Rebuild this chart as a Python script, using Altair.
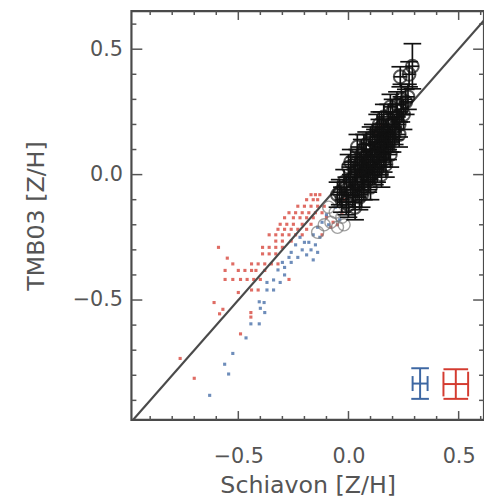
import altair as alt
import pandas as pd

# ---------------- data ----------------
X_DOMAIN = [-0.985, 0.615]
Y_DOMAIN = [-0.978, 0.652]

x_major = [-0.5, 0.0, 0.5]
y_major = [-0.5, 0.0, 0.5]
x_minor = [-0.9, -0.8, -0.7, -0.6, -0.4, -0.3, -0.2, -0.1, 0.1, 0.2, 0.3, 0.4, 0.6]
y_minor = [-0.9, -0.8, -0.7, -0.6, -0.4, -0.3, -0.2, -0.1, 0.1, 0.2, 0.3, 0.4, 0.6]

one_to_one = [-1.2, 0.8]

red_x = [-0.17, -0.15, -0.13, -0.19, -0.16, -0.14,
         -0.23, -0.20, -0.17, -0.14, -0.11,
         -0.27, -0.24, -0.21, -0.18, -0.15, -0.12,
         -0.29, -0.25, -0.22, -0.19, -0.16,
         -0.31, -0.28, -0.25, -0.21, -0.17,
         -0.32, -0.29, -0.26, -0.23, -0.19,
         -0.36, -0.33, -0.30, -0.27, -0.24, -0.21,
         -0.33, -0.30, -0.26,
         -0.59, -0.39, -0.36, -0.33, -0.30,
         -0.39, -0.36, -0.33, -0.55,
         -0.525, -0.44, -0.41, -0.38, -0.35, -0.32,
         -0.56, -0.50, -0.47, -0.44, -0.42, -0.38,
         -0.56, -0.525, -0.49, -0.46, -0.43, -0.40, -0.27,
         -0.44, -0.41, -0.50,
         -0.61, -0.57, -0.585, -0.443, -0.443, -0.49, -0.764, -0.70,
         -0.10, -0.07, -0.05, -0.08, -0.12, -0.03, 0.05, 0.10, 0.12, 0.03, 0.08, 0.15, 0.18, -0.02, 0.07]
red_y = [-0.08, -0.08, -0.08, -0.10, -0.10, -0.10,
         -0.126, -0.126, -0.126, -0.126, -0.126,
         -0.152, -0.152, -0.152, -0.152, -0.152, -0.152,
         -0.172, -0.172, -0.172, -0.172, -0.172,
         -0.198, -0.198, -0.198, -0.198, -0.198,
         -0.218, -0.218, -0.218, -0.218, -0.218,
         -0.24, -0.24, -0.24, -0.24, -0.24, -0.24,
         -0.265, -0.265, -0.265,
         -0.29, -0.29, -0.29, -0.29, -0.29,
         -0.316, -0.316, -0.316, -0.333,
         -0.356, -0.356, -0.356, -0.356, -0.356, -0.356,
         -0.382, -0.382, -0.382, -0.382, -0.382, -0.382,
         -0.418, -0.418, -0.418, -0.418, -0.418, -0.418, -0.418,
         -0.46, -0.46, -0.47,
         -0.51, -0.537, -0.555, -0.55, -0.568, -0.635, -0.733, -0.812,
         -0.17, -0.19, -0.20, -0.21, -0.24, -0.15, 0.00, 0.12, 0.17, -0.06, 0.05, 0.20, 0.22, -0.10, 0.10]

blue_x = [-0.14, -0.16, -0.13, -0.18, -0.15, -0.17, -0.14, -0.19, -0.16,
          -0.22, -0.20, -0.24, -0.21, -0.26, -0.23, -0.27, -0.30, -0.26,
          -0.29, -0.32, -0.29, -0.34, -0.31, -0.37, -0.37, -0.34,
          -0.383, -0.40, -0.38, -0.405, -0.443, -0.405, -0.465, -0.525, -0.562, -0.544, -0.63,
          -0.06, -0.10, -0.09, 0.02, 0.06, 0.10, 0.13, 0.16, 0.00, 0.04, -0.04, -0.12, 0.08, 0.11]
blue_y = [-0.21, -0.24, -0.25, -0.27, -0.28, -0.30, -0.31, -0.32, -0.34,
          -0.25, -0.27, -0.28, -0.30, -0.31, -0.33, -0.33, -0.35, -0.35,
          -0.37, -0.38, -0.40, -0.42, -0.43, -0.43, -0.46, -0.46,
          -0.51, -0.533, -0.55, -0.507, -0.595, -0.595, -0.651, -0.713, -0.756, -0.795, -0.88,
          -0.13, -0.16, -0.20, -0.05, 0.03, 0.08, 0.13, 0.18, -0.02, -0.08, -0.18, -0.19, 0.00, 0.06]

circ_x = [0.290, 0.275, 0.235, 0.26, 0.24, 0.22, 0.24, 0.20, 0.22, 0.18, 0.20, 0.23,
          0.15, 0.17, 0.21, 0.14, 0.16, 0.19, 0.12, 0.14, 0.17, 0.10, 0.13, 0.16,
          0.08, 0.11, 0.14, 0.06, 0.05, 0.08, 0.11, 0.03, 0.06, 0.09, 0.13, 0.01,
          0.04, 0.07, -0.01, 0.02, 0.05, -0.03, 0.00, 0.03,
          0.27, 0.19, 0.25, 0.16, 0.21, 0.13, 0.18, 0.10, 0.15, 0.07, 0.12, 0.04, 0.09,
          0.00, 0.06, -0.02, 0.02, 0.10, 0.15, 0.19, 0.23, 0.08, -0.04, 0.17,
          0.11, 0.14, 0.18, 0.07, 0.04, 0.01, -0.05, 0.09, 0.12, 0.20, 0.16, 0.06, -0.01, 0.03]
circ_y = [0.432, 0.400, 0.390, 0.29, 0.30, 0.28, 0.26, 0.25, 0.23, 0.22, 0.20, 0.20,
          0.19, 0.17, 0.17, 0.16, 0.14, 0.14, 0.13, 0.11, 0.11, 0.10, 0.08, 0.08,
          0.07, 0.05, 0.05, 0.08, 0.04, 0.02, 0.01, 0.01, -0.01, -0.02, 0.02, -0.02,
          -0.04, -0.05, -0.06, -0.08, -0.09, -0.10, -0.12, -0.13,
          0.31, 0.27, 0.24, 0.23, 0.19, 0.18, 0.15, 0.14, 0.12, 0.10, 0.07, 0.05, 0.03,
          0.03, 0.00, -0.03, -0.06, -0.05, 0.00, 0.08, 0.16, 0.12, -0.07, 0.04,
          0.15, 0.20, 0.11, 0.02, 0.11, 0.05, -0.08, -0.01, 0.01, 0.14, 0.06, -0.08, -0.11, -0.03]
circ_xerr = [0.03] * len(circ_x)
circ_yerr = [0.09, 0.05, 0.04, 0.05, 0.06, 0.05, 0.05, 0.05, 0.05, 0.06, 0.05, 0.05,
             0.06, 0.05, 0.05, 0.06, 0.05, 0.05, 0.05, 0.05, 0.05, 0.06, 0.05, 0.05,
             0.05, 0.05, 0.05, 0.06, 0.05, 0.05, 0.05, 0.06, 0.05, 0.05, 0.05, 0.06,
             0.05, 0.05, 0.05, 0.05, 0.05, 0.05, 0.05, 0.05,
             0.05, 0.05, 0.06, 0.05, 0.05, 0.06, 0.05, 0.05, 0.05, 0.06, 0.05, 0.05, 0.05,
             0.05, 0.06, 0.05, 0.05, 0.05, 0.05, 0.05, 0.05, 0.05, 0.05, 0.05,
             0.05, 0.05, 0.05, 0.05, 0.05, 0.05, 0.05, 0.05, 0.05, 0.05, 0.05, 0.05, 0.05, 0.05]

gray_x = [-0.06, -0.03, -0.08, -0.05, -0.11, -0.14, -0.09, -0.02]
gray_y = [-0.15, -0.17, -0.19, -0.21, -0.20, -0.23, -0.13, -0.20]

err_x = [0.325, 0.487]
err_y = [-0.833, -0.835]
err_xerr = [0.034, 0.056]
err_yerr = [0.061, 0.059]
err_color = ["#3d67a3", "#d43b30"]

RED = "#d43b30"
BLUE = "#3d67a3"
GRAY = "#555555"
FONT = "DejaVu Sans"
W, H = 357, 414

xs = alt.Scale(domain=X_DOMAIN, nice=False, zero=False)
ys = alt.Scale(domain=Y_DOMAIN, nice=False, zero=False)

x_axis = alt.Axis(values=x_major, format=".1f", ticks=False, tickSize=0, domain=False, grid=False,
                  labelFont=FONT, labelFontSize=21, labelColor=GRAY, labelPadding=26, labelFlush=False,
                  title="Schiavon [Z/H]", titleFont=FONT, titleFontSize=24, titleFontWeight="normal",
                  titleColor=GRAY, titlePadding=7)
y_axis = alt.Axis(values=y_major, format=".1f", ticks=False, tickSize=0, domain=False, grid=False,
                  labelFont=FONT, labelFontSize=21, labelColor=GRAY, labelPadding=9, labelFlush=False,
                  title="TMB03 [Z/H]", titleFont=FONT, titleFontSize=24, titleFontWeight="normal",
                  titleColor=GRAY, titlePadding=24)


def X(f):
    return alt.X(f, type="quantitative", scale=xs, axis=x_axis)


def Y(f):
    return alt.Y(f, type="quantitative", scale=ys, axis=y_axis)


layers = []

df_xmaj = pd.DataFrame({"v": x_major})
df_xmin = pd.DataFrame({"v": x_minor})
df_ymaj = pd.DataFrame({"v": y_major})
df_ymin = pd.DataFrame({"v": y_minor})

# axis-bearing invisible layer
layers.append(alt.Chart(df_xmaj).mark_point(opacity=0).encode(x=X("v:Q"), y=Y("v:Q")))

tick_style = dict(color=GRAY, strokeWidth=1.5)
for d, ln in ((df_xmaj, 9), (df_xmin, 4)):
    layers.append(alt.Chart(d).mark_rule(**tick_style).encode(
        x=X("v:Q"), y=alt.value(H), y2=alt.value(H - ln)))
    layers.append(alt.Chart(d).mark_rule(**tick_style).encode(
        x=X("v:Q"), y=alt.value(0), y2=alt.value(ln)))
for d, ln in ((df_ymaj, 11), (df_ymin, 5)):
    layers.append(alt.Chart(d).mark_rule(**tick_style).encode(
        y=Y("v:Q"), x=alt.value(0), x2=alt.value(ln)))
    layers.append(alt.Chart(d).mark_rule(**tick_style).encode(
        y=Y("v:Q"), x=alt.value(W), x2=alt.value(W - ln)))

# --- scatter points ---
df_red = pd.DataFrame({"x": red_x, "y": red_y})
df_blue = pd.DataFrame({"x": blue_x, "y": blue_y})
layers.append(alt.Chart(df_red).mark_square(size=10, color=RED, opacity=0.75).encode(x=X("x:Q"), y=Y("y:Q")))
layers.append(alt.Chart(df_blue).mark_square(size=10, color=BLUE, opacity=0.75).encode(x=X("x:Q"), y=Y("y:Q")))

# --- 1:1 line ---
df_line = pd.DataFrame({"x": one_to_one, "y": one_to_one})
layers.append(alt.Chart(df_line).mark_line(color="#4a4a4a", strokeWidth=2.2, clip=True).encode(
    x=X("x:Q"), y=Y("y:Q")))

# --- gray circles ---
df_gray = pd.DataFrame({"x": gray_x, "y": gray_y})
layers.append(alt.Chart(df_gray).mark_point(shape="circle", filled=False, size=150, color="#7a7a7a",
                                            strokeWidth=1.4).encode(x=X("x:Q"), y=Y("y:Q")))


def error_layers(df, color, width, side_caps):
    base = alt.Chart(df).transform_calculate(
        ylo="datum.y - datum.ye", yhi="datum.y + datum.ye",
        xlo="datum.x - datum.xe", xhi="datum.x + datum.xe",
        cxlo="datum.x - max(datum.xe, 0.04)", cxhi="datum.x + max(datum.xe, 0.04)",
        cylo="datum.y - datum.xe * 223 / 254", cyhi="datum.y + datum.xe * 223 / 254",
    )
    style = dict(strokeWidth=width)
    if color is not None:
        style["color"] = color
        cenc = {}
    else:
        cenc = {"color": alt.Color("c:N", scale=None, legend=None)}
    out = [
        base.mark_rule(**style).encode(x=X("x:Q"), y=Y("ylo:Q"), y2="yhi:Q", **cenc),
        base.mark_rule(**style).encode(x=X("cxlo:Q"), x2="cxhi:Q", y=Y("ylo:Q"), **cenc),
        base.mark_rule(**style).encode(x=X("cxlo:Q"), x2="cxhi:Q", y=Y("yhi:Q"), **cenc),
        base.mark_rule(**style).encode(x=X("xlo:Q"), x2="xhi:Q", y=Y("y:Q"), **cenc),
    ]
    if side_caps:
        out += [
            base.mark_rule(**style).encode(x=X("xlo:Q"), y=Y("cylo:Q"), y2="cyhi:Q", **cenc),
            base.mark_rule(**style).encode(x=X("xhi:Q"), y=Y("cylo:Q"), y2="cyhi:Q", **cenc),
        ]
    return out


# --- black circles with error bars ---
df_c = pd.DataFrame({"x": circ_x, "y": circ_y, "xe": circ_xerr, "ye": circ_yerr})
layers += error_layers(df_c, "#111111", 1.7, False)
layers.append(alt.Chart(df_c).mark_point(shape="circle", filled=False, size=170, color="#111111",
                                         strokeWidth=2).encode(x=X("x:Q"), y=Y("y:Q")))

# --- representative error bars ---
df_e = pd.DataFrame({"x": err_x, "y": err_y, "xe": err_xerr, "ye": err_yerr, "c": err_color})
layers += error_layers(df_e, None, 2, True)

chart = alt.layer(*layers).properties(
    width=W, height=H,
    autosize=alt.AutoSizeParams(type="none"),
    padding={"left": 125, "top": 0, "right": 0, "bottom": 80},
).configure_view(stroke="#4a4a4a", strokeWidth=2.2)

chart.save("out.html", embed_options={"renderer": "svg", "actions": False})
